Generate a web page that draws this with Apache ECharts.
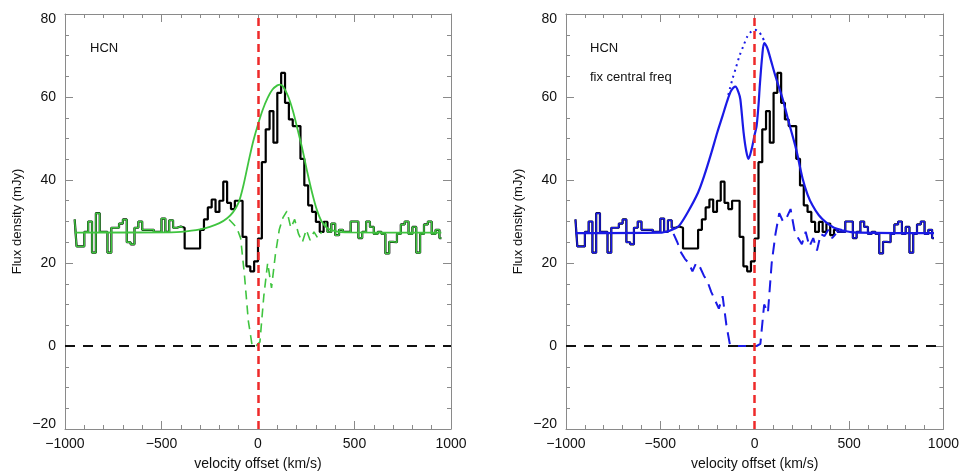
<!DOCTYPE html>
<html>
<head>
<meta charset="utf-8">
<script src="https://cdn.jsdelivr.net/npm/echarts@6/dist/echarts.min.js"></script>
<style>
html, body { margin: 0; padding: 0; background: #fff; }
#chart { width: 962px; height: 476px; }
</style>
</head>
<body>
<div id="chart"></div>
<script>
// spectrum bins: 20 km/s wide, centres from -950 to 950
const binStart = -950;
const binWidth = 20;

// observed HCN flux density (mJy), one value per bin
const flux = [
    30.5, 24, 24, 27.5, 30, 22.5, 32, 27.5, 27.5, 22.5,
    28.5, 28.5, 29.5, 30.5, 25, 24.5, 28.5, 30, 28, 28,
    28, 27.5, 27.5, 30.7, 27.5, 30.3, 28.5, 28.8, 28.5, 23.5,
    23.5, 23.5, 23.5, 28, 30.5, 33.4, 35.3, 32.3, 35, 39.6,
    34.5, 33, 35, 35, 26.3, 19.2, 18, 20.4, 25.9, 44.3,
    52.2, 56.6, 49, 61, 65.8, 58.6, 54.6, 53, 53, 45.1,
    38.7, 33.9, 32.3, 29.9, 27.5, 29.9, 27.5, 29.5, 26.7, 28,
    27.5, 27.5, 30, 30, 26, 27.5, 30, 28.7, 27, 27.5,
    27, 22.3, 25.1, 25, 27, 29.3, 30, 27, 28.7, 22.5,
    27, 29.3, 30, 27, 28, 26
];

// left panel: green fit
const greenFitV = [-950, -450, -400, -300, -250, -200, -160, -130, -100, -75, -50, -25, 0, 25, 50, 75, 100, 115, 130, 155, 180, 205, 230, 255, 280, 305, 330, 360, 400, 450, 950];
const greenFitF = [27.3, 27.4, 27.5, 28.1, 28.7, 29.6, 30.8, 32.2, 34.6, 38.8, 44.2, 49.3, 53.4, 57, 59.8, 61.8, 62.8, 63, 62.5, 60.3, 56.8, 52.2, 47.4, 42, 37, 32.8, 30, 28.4, 27.7, 27.4, 27.3];

// left panel: green dashed residual
const greenResV = [-150, -130, -110, -90, -70, -50, -30, -10, 10, 30, 50, 70, 90, 110, 130, 150, 170, 190, 210, 230, 250, 270, 290, 310, 330];
const greenResF = [30.5, 29.5, 28.5, 26, 17, 6, 0, 0, 1, 12, 20, 14, 22, 28, 31, 32.5, 28.5, 30.5, 27, 25, 28, 25.5, 27.5, 26, 27.5];

// right panel: blue fit (with absorption)
const blueFitV = [-950, -500, -450, -424, -400, -354, -300, -267, -230, -198, -170, -146, -125, -102, -85, -76, -59, -45, -33, -16, 0, 10, 20, 28, 40, 50, 65, 80, 110, 149, 180, 219, 254, 280, 306, 340, 375, 420, 462, 520, 950];
const blueFitF = [27.2, 27.3, 27.8, 28.3, 29, 32.3, 37, 41.1, 46.5, 51.5, 55.5, 59, 61.5, 62.5, 61, 59.4, 51.5, 47, 45.1, 47.5, 51, 53, 58, 63.4, 70, 73, 72, 69.8, 65, 59.4, 54, 47.5, 40.3, 36.5, 33.9, 31.5, 29.9, 28.5, 27.9, 27.4, 27.2];

// right panel: blue dotted unabsorbed top
const blueTopV = [-140, -120, -100, -80, -60, -40, -20, 0, 20, 40, 50];
const blueTopF = [60.5, 64, 67, 70, 72.3, 74.5, 75.7, 76.2, 75.8, 74.5, 73.5];

// right panel: blue dashed residual
const blueResV = [-430, -410, -390, -370, -350, -330, -310, -290, -270, -250, -230, -210, -190, -170, -150, -130, -110, -90, -70, -50, -30, -10, 10, 30, 50, 70, 90, 110, 130, 150, 170, 190, 210, 230, 250, 270, 290, 310, 330, 350, 370, 390, 410, 430];
const blueResF = [27, 25, 22.5, 21, 20, 18, 20, 19, 17, 15.5, 13, 11, 9, 12, 5, 0, 0, 0, 0, 0, 0, 0, 0, 0.5, 10, 8, 20, 27, 32, 30, 31, 33, 28, 26, 24.5, 27.5, 24, 26, 23, 27, 26.5, 28, 26, 27];

const FONT = '"Liberation Sans", Arial, Helvetica, sans-serif';
const AXIS_COLOR = '#8a8a8a';
const GREEN = '#3fc43f';
const BLUE = '#1a1ae6';
const RED = '#ee2a2a';

const spectrum = flux.map((f, i) => [binStart + i * binWidth, f]);
const pairs = (vs, fs) => vs.map((v, i) => [v, fs[i]]);

function minusSign(v) {
    return String(v).replace('-', '\u2212');
}

// end labels of the flux axis sit a little inside the frame
function fluxLabel(v) {
    if (v === 80) return '{t|80}';
    if (v === -20) return '{b|\u221220}';
    return minusSign(v);
}

function xAxes(gridIndex) {
    const base = {
        type: 'value',
        gridIndex: gridIndex,
        min: -1000,
        max: 1000,
        interval: 500,
        axisLine: { show: true, onZero: false, lineStyle: { color: AXIS_COLOR, width: 1 } },
        axisTick: { show: true, inside: true, length: 8, lineStyle: { color: AXIS_COLOR } },
        minorTick: { show: true, splitNumber: 5, length: 4, lineStyle: { color: AXIS_COLOR } },
        splitLine: { show: false }
    };
    return [
        Object.assign({}, base, {
            position: 'bottom',
            axisLabel: {
                color: '#111', fontSize: 14, fontFamily: FONT, margin: 8,
                showMinLabel: true, showMaxLabel: true, formatter: minusSign
            },
            name: 'velocity offset (km/s)',
            nameLocation: 'middle',
            nameGap: 28,
            nameTextStyle: { color: '#111', fontSize: 14, fontFamily: FONT }
        }),
        Object.assign({}, base, { position: 'top', axisLabel: { show: false } })
    ];
}

function yAxes(gridIndex) {
    const base = {
        type: 'value',
        gridIndex: gridIndex,
        min: -20,
        max: 80,
        interval: 20,
        axisLine: { show: true, onZero: false, lineStyle: { color: AXIS_COLOR, width: 1 } },
        axisTick: { show: true, inside: true, length: 8, lineStyle: { color: AXIS_COLOR } },
        minorTick: { show: true, splitNumber: 4, length: 4, lineStyle: { color: AXIS_COLOR } },
        splitLine: { show: false }
    };
    const richText = { color: '#111', fontSize: 14, fontFamily: FONT };
    return [
        Object.assign({}, base, {
            position: 'left',
            axisLabel: {
                color: '#111', fontSize: 14, fontFamily: FONT, margin: 9,
                showMinLabel: true, showMaxLabel: true, formatter: fluxLabel,
                rich: {
                    t: Object.assign({ padding: [10, 0, 0, 0] }, richText),
                    b: Object.assign({ padding: [0, 0, 10, 0] }, richText)
                }
            },
            name: 'Flux density (mJy)',
            nameLocation: 'middle',
            nameGap: 41,
            nameTextStyle: { color: '#111', fontSize: 13, fontFamily: FONT }
        }),
        Object.assign({}, base, { position: 'right', axisLabel: { show: false } })
    ];
}

function guideLines(axisIndex) {
    return {
        type: 'line',
        xAxisIndex: axisIndex,
        yAxisIndex: axisIndex,
        data: [],
        silent: true,
        z: 6,
        markLine: {
            silent: true,
            symbol: ['none', 'none'],
            label: { show: false },
            animation: false,
            data: [
                { yAxis: 0, lineStyle: { color: '#111', width: 2, type: [10, 8] } },
                { xAxis: 0, lineStyle: { color: RED, width: 2.5, type: [8, 5] } }
            ]
        }
    };
}

function histogram(axisIndex, data, color, width, z) {
    return {
        type: 'line',
        xAxisIndex: axisIndex,
        yAxisIndex: axisIndex,
        step: 'middle',
        data: data,
        showSymbol: false,
        symbol: 'none',
        lineStyle: { color: color, width: width },
        z: z
    };
}

function curve(axisIndex, data, color, width, dash, smooth, z) {
    return {
        type: 'line',
        xAxisIndex: axisIndex,
        yAxisIndex: axisIndex,
        data: data,
        smooth: smooth,
        showSymbol: false,
        symbol: 'none',
        lineStyle: { color: color, width: width, type: dash },
        z: z
    };
}

const chart = echarts.init(document.getElementById('chart'));

chart.setOption({
    animation: false,
    backgroundColor: '#fff',
    grid: [
        { left: 65, right: 511, top: 14, bottom: 44, containLabel: false },
        { left: 566, right: 12, top: 14, bottom: 44, containLabel: false }
    ],
    xAxis: xAxes(0).concat(xAxes(1)),
    yAxis: yAxes(0).concat(yAxes(1)),
    graphic: [
        { type: 'text', left: 90, top: 42, style: { text: 'HCN', fontSize: 13, fontFamily: FONT, fill: '#111' } },
        { type: 'text', left: 590, top: 42, style: { text: 'HCN', fontSize: 13, fontFamily: FONT, fill: '#111' } },
        { type: 'text', left: 590, top: 71, style: { text: 'fix central freq', fontSize: 13, fontFamily: FONT, fill: '#111' } }
    ],
    series: [
        // left panel
        guideLines(0),
        histogram(0, spectrum, '#000', 2.2, 2),
        histogram(0, spectrum.filter(p => p[0] <= -390), GREEN, 1.5, 3),
        histogram(0, spectrum.filter(p => p[0] >= 350), GREEN, 1.5, 3),
        curve(0, pairs(greenResV, greenResF), GREEN, 1.6, [9, 6], false, 4),
        curve(0, pairs(greenFitV, greenFitF), GREEN, 1.8, 'solid', 0.3, 4),

        // right panel (axes 2 = bottom/left of second grid)
        guideLines(2),
        histogram(2, spectrum, '#000', 2.2, 2),
        histogram(2, spectrum.filter(p => p[0] <= -430), BLUE, 1.5, 3),
        histogram(2, spectrum.filter(p => p[0] >= 430), BLUE, 1.5, 3),
        curve(2, pairs(blueResV, blueResF), BLUE, 2, [12, 7], false, 4),
        curve(2, pairs(blueTopV, blueTopF), BLUE, 2, [2, 4], 0.3, 4),
        curve(2, pairs(blueFitV, blueFitF), BLUE, 2.2, 'solid', 0.3, 4)
    ]
});
</script>
</body>
</html>
